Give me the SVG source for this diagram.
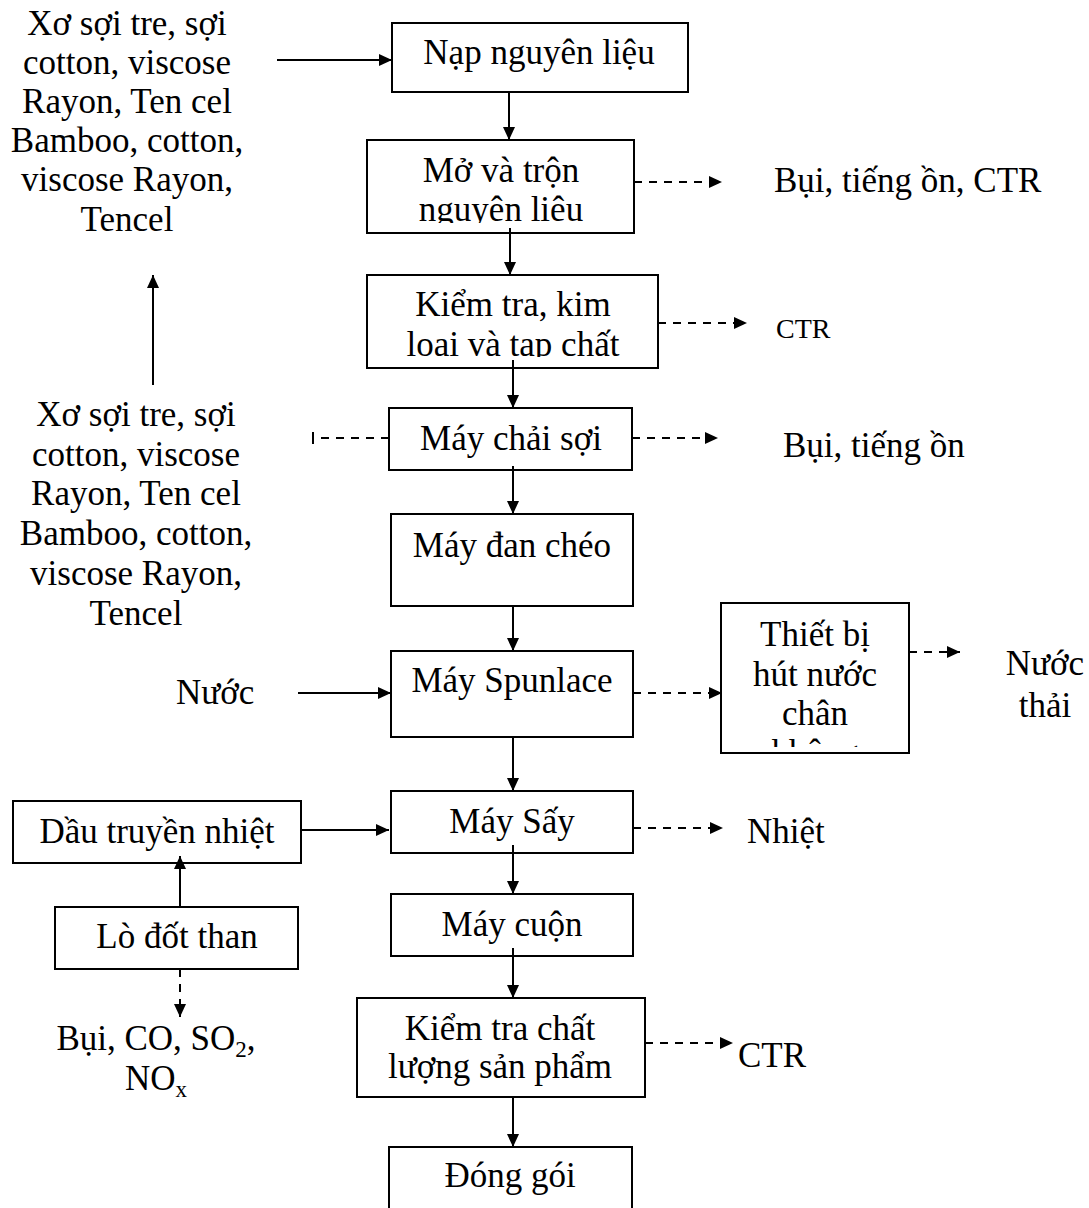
<svg xmlns="http://www.w3.org/2000/svg" width="1089" height="1208" viewBox="0 0 1089 1208" font-family="'Liberation Serif', 'DejaVu Serif', serif">
  <style>
    text { font-family: 'Liberation Serif', 'DejaVu Serif', serif; font-size: 35px; fill: #000; }
    .c { text-anchor: middle; }
    .box { fill: #fff; stroke: #000; stroke-width: 2; }
    .ln { fill: none; stroke: #000; stroke-width: 2; }
    .dash { fill: none; stroke: #000; stroke-width: 2; stroke-dasharray: 8 7; }
  </style>
  <defs>
    <marker id="ah" markerUnits="userSpaceOnUse" markerWidth="14" markerHeight="12" refX="13" refY="6" orient="auto">
      <path d="M0,0 L13,6 L0,12 z" fill="#000"/>
    </marker>
    <clipPath id="clipMo"><rect x="368" y="141" width="265" height="82"/></clipPath>
    <clipPath id="clipKiem"><rect x="368" y="276" width="289" height="81"/></clipPath>
    <clipPath id="clipThiet"><rect x="722" y="604" width="186" height="143"/></clipPath>
  </defs>
  <rect width="1089" height="1208" fill="#fff"/>

  <!-- raw material inputs -->
  <g id="input-top">
    <text class="c" x="127" y="35">Xơ sợi tre, sợi</text>
    <text class="c" x="127" y="74">cotton, viscose</text>
    <text class="c" x="127" y="113">Rayon, Ten cel</text>
    <text class="c" x="127" y="152">Bamboo, cotton,</text>
    <text class="c" x="127" y="191">viscose Rayon,</text>
    <text class="c" x="127" y="231">Tencel</text>
  </g>
  <g id="input-recycled">
    <text class="c" x="136" y="426">Xơ sợi tre, sợi</text>
    <text class="c" x="136" y="466">cotton, viscose</text>
    <text class="c" x="136" y="505">Rayon, Ten cel</text>
    <text class="c" x="136" y="545">Bamboo, cotton,</text>
    <text class="c" x="136" y="585">viscose Rayon,</text>
    <text class="c" x="136" y="625">Tencel</text>
  </g>

  <!-- main process column -->
  <g id="nap">
    <rect class="box" x="392" y="23" width="296" height="69"/>
    <text class="c" x="539" y="64">Nạp nguyên liệu</text>
  </g>
  <g id="mo-tron">
    <rect class="box" x="367" y="140" width="267" height="93"/>
    <g clip-path="url(#clipMo)">
      <text class="c" x="501" y="182">Mở và trộn</text>
      <text class="c" x="501" y="221">nguyên liệu</text>
    </g>
  </g>
  <g id="kiem-tra">
    <rect class="box" x="367" y="275" width="291" height="93"/>
    <g clip-path="url(#clipKiem)">
      <text class="c" x="513" y="316">Kiểm tra, kim</text>
      <text class="c" x="513" y="356">loại và tạp chất</text>
    </g>
  </g>
  <g id="chai-soi">
    <rect class="box" x="389" y="408" width="243" height="62"/>
    <text class="c" x="511" y="450">Máy chải sợi</text>
  </g>
  <g id="dan-cheo">
    <rect class="box" x="391" y="514" width="242" height="92"/>
    <text class="c" x="512" y="557">Máy đan chéo</text>
  </g>
  <g id="spunlace">
    <rect class="box" x="391" y="651" width="242" height="86"/>
    <text class="c" x="512" y="692">Máy Spunlace</text>
  </g>
  <g id="hut-nuoc">
    <rect class="box" x="721" y="603" width="188" height="150"/>
    <g clip-path="url(#clipThiet)">
      <text class="c" x="815" y="646">Thiết bị</text>
      <text class="c" x="815" y="686">hút nước</text>
      <text class="c" x="815" y="725">chân</text>
      <text class="c" x="815" y="764">không</text>
    </g>
  </g>
  <g id="say">
    <rect class="box" x="391" y="791" width="242" height="62"/>
    <text class="c" x="512" y="833">Máy Sấy</text>
  </g>
  <g id="cuon">
    <rect class="box" x="391" y="894" width="242" height="62"/>
    <text class="c" x="512" y="936">Máy cuộn</text>
  </g>
  <g id="kiem-tra-chat-luong">
    <rect class="box" x="357" y="998" width="288" height="99"/>
    <text class="c" x="500" y="1040">Kiểm tra chất</text>
    <text class="c" x="500" y="1078">lượng sản phẩm</text>
  </g>
  <g id="dong-goi">
    <rect class="box" x="389" y="1147" width="243" height="70"/>
    <text class="c" x="510" y="1187">Đóng gói</text>
  </g>

  <!-- heating loop -->
  <g id="dau-truyen-nhiet">
    <rect class="box" x="13" y="801" width="288" height="62"/>
    <text class="c" x="157" y="843">Dầu truyền nhiệt</text>
  </g>
  <g id="lo-dot-than">
    <rect class="box" x="55" y="907" width="243" height="62"/>
    <text class="c" x="177" y="948">Lò đốt than</text>
  </g>

  <!-- side inputs and outputs -->
  <g id="nuoc-vao"><text x="176" y="704">Nước</text></g>
  <g id="out-mo"><text x="774" y="192">Bụi, tiếng ồn, CTR</text></g>
  <g id="out-kiem"><text x="776" y="338" style="font-size:28px">CTR</text></g>
  <g id="out-chai"><text x="783" y="457">Bụi, tiếng ồn</text></g>
  <g id="out-nuoc-thai">
    <text class="c" x="1045" y="675">Nước</text>
    <text class="c" x="1045" y="717">thải</text>
  </g>
  <g id="out-say"><text x="747" y="843">Nhiệt</text></g>
  <g id="out-kt"><text x="738" y="1067">CTR</text></g>
  <g id="out-lo">
    <text class="c" x="156" y="1050">Bụi, CO, SO<tspan style="font-size:23px" dy="7">2</tspan><tspan dy="-7">,</tspan></text>
    <text class="c" x="156" y="1090">NO<tspan style="font-size:23px" dy="7">x</tspan></text>
  </g>

  <!-- connectors -->
  <g id="connectors">
    <line class="ln" x1="277" y1="60" x2="392" y2="60" marker-end="url(#ah)"/>
    <line class="ln" x1="153" y1="385" x2="153" y2="275" marker-end="url(#ah)"/>

    <line class="ln" x1="509" y1="92" x2="509" y2="140" marker-end="url(#ah)"/>
    <line class="ln" x1="510" y1="228" x2="510" y2="275" marker-end="url(#ah)"/>
    <line class="ln" x1="513" y1="360" x2="513" y2="408" marker-end="url(#ah)"/>
    <line class="ln" x1="513" y1="466" x2="513" y2="514" marker-end="url(#ah)"/>
    <line class="ln" x1="513" y1="606" x2="513" y2="651" marker-end="url(#ah)"/>
    <line class="ln" x1="513" y1="737" x2="513" y2="791" marker-end="url(#ah)"/>
    <line class="ln" x1="513" y1="845" x2="513" y2="894" marker-end="url(#ah)"/>
    <line class="ln" x1="513" y1="948" x2="513" y2="998" marker-end="url(#ah)"/>
    <line class="ln" x1="513" y1="1097" x2="513" y2="1147" marker-end="url(#ah)"/>

    <line class="dash" x1="634" y1="182" x2="722" y2="182" marker-end="url(#ah)"/>
    <line class="dash" x1="658" y1="323" x2="747" y2="323" marker-end="url(#ah)"/>
    <line class="dash" x1="632" y1="438" x2="718" y2="438" marker-end="url(#ah)"/>
    <line class="dash" x1="389" y1="438" x2="314" y2="438"/>
    <line class="ln" x1="313" y1="432" x2="313" y2="444" stroke-width="2.5"/>
    <line class="dash" x1="633" y1="693" x2="722" y2="693" marker-end="url(#ah)"/>
    <line class="dash" x1="909" y1="652" x2="960" y2="652" marker-end="url(#ah)"/>
    <line class="dash" x1="633" y1="828" x2="723" y2="828" marker-end="url(#ah)"/>
    <line class="dash" x1="645" y1="1043" x2="733" y2="1043" marker-end="url(#ah)"/>

    <line class="ln" x1="298" y1="693" x2="391" y2="693" marker-end="url(#ah)"/>
    <line class="ln" x1="301" y1="830" x2="389" y2="830" marker-end="url(#ah)"/>
    <line class="ln" x1="180" y1="907" x2="180" y2="856" marker-end="url(#ah)"/>
    <line class="dash" x1="180" y1="969" x2="180" y2="1017" marker-end="url(#ah)"/>
  </g>
</svg>
